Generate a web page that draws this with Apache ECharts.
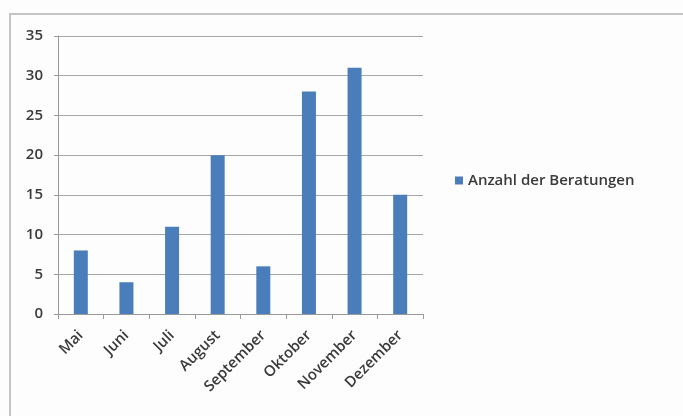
<!DOCTYPE html>
<html><head><meta charset="utf-8">
<script src="https://cdn.jsdelivr.net/npm/echarts@6/dist/echarts.min.js"></script>
<style>html,body{margin:0;padding:0;background:#fff}#c{width:683px;height:416px}</style>
</head><body><div id="c"></div>
<script>
var categories = ['Mai','Juni','Juli','August','September','Oktober','November','Dezember'];
var beratungen = [8, 4, 11, 20, 6, 28, 31, 15];
var seriesName = 'Anzahl der Beratungen';
var yTicks = {min: 0, max: 35, interval: 5};

var chart = echarts.init(document.getElementById('c'), null, {renderer: 'canvas'});
var font = 'Open Sans';
chart.setOption({
  animation: false,
  backgroundColor: '#fdfdfd',
  graphic: [{
    type: 'rect', shape: {x: 10, y: 14, width: 700, height: 420},
    style: {fill: 'none', stroke: '#c4c4c4', lineWidth: 2}, silent: true, z: -1
  }],
  grid: {left: 58, right: 260, top: 36, bottom: 102, containLabel: false},
  legend: {
    data: [seriesName], left: 450, top: 168, icon: 'rect', itemWidth: 8, itemHeight: 8, itemGap: 4,
    textStyle: {fontFamily: font, fontSize: 15, fontWeight: 600, color: '#3a3a3a'}
  },
  xAxis: {
    type: 'category', data: categories,
    axisLine: {lineStyle: {color: '#999', width: 1}},
    axisTick: {show: true, length: 5, lineStyle: {color: '#999'}},
    axisLabel: {rotate: 45, fontFamily: font, fontSize: 15, fontWeight: 600, color: '#3a3a3a', margin: 19, interval: 0}
  },
  yAxis: {
    type: 'value', min: yTicks.min, max: yTicks.max, interval: yTicks.interval,
    axisLine: {show: true, lineStyle: {color: '#999', width: 1}},
    axisTick: {show: true, length: 4, lineStyle: {color: '#999'}},
    splitLine: {lineStyle: {color: '#a6a6a6', width: 1}},
    axisLabel: {fontFamily: font, fontSize: 15, fontWeight: 600, color: '#3a3a3a', margin: 15}
  },
  series: [{
    name: seriesName, type: 'bar', data: beratungen, barWidth: 14,
    itemStyle: {color: '#4a7ebb'}
  }]
});
</script></body></html>
